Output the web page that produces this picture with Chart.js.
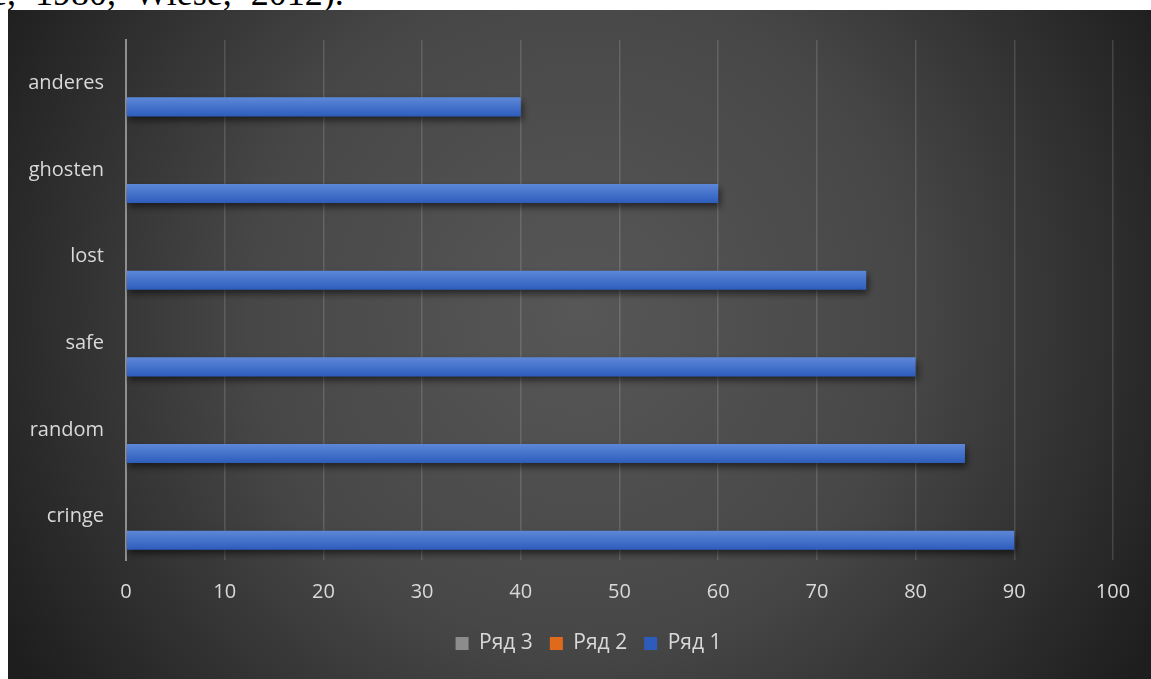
<!DOCTYPE html>
<html>
<head>
<meta charset="utf-8">
<script src="https://cdn.jsdelivr.net/npm/chart.js@4/dist/chart.umd.min.js"></script>
<style>
  body { margin: 0; background: #fff; overflow: hidden; }
  #snippet { position: absolute; left: -9px; top: -25px; font: 36px "Liberation Serif", serif; line-height: 1; color: #000; white-space: nowrap; word-spacing: 10px; }
  #wrap { position: absolute; left: 8px; top: 10px; width: 1143px; height: 669px; }
</style>
</head>
<body>
<div id="snippet">e, 1980, Wiese, 2012).</div>
<div id="wrap"><canvas id="bars"></canvas></div>
<script>
const categories = ["cringe", "random", "safe", "lost", "ghosten", "anderes"]
const series1 = [90, 85, 80, 75, 60, 40]
const series2 = [null, null, null, null, null, null]
const series3 = [null, null, null, null, null, null]
const seriesNames = ["Ряд 3", "Ряд 2", "Ряд 1"]
const xTicks = [0, 10, 20, 30, 40, 50, 60, 70, 80, 90, 100]

const labelFont = { family: "'Open Sans', sans-serif", size: 20 }
const labelColor = "#d9d9d9"

// vertical gradient on each bar, using the bar's own position from the last layout
const barFill = (top, bottom) => (c) => {
  if (c.dataIndex === undefined) return bottom
  const el = c.chart.getDatasetMeta(c.datasetIndex).data[c.dataIndex]
  if (!el || el.y === undefined || !el.height) return bottom
  const g = c.chart.ctx.createLinearGradient(0, el.y - el.height / 2, 0, el.y + el.height / 2)
  g.addColorStop(0, top)
  g.addColorStop(1, bottom)
  return g
}

const backdrop = {
  id: "backdrop",
  beforeDraw(chart) {
    const { ctx, width, height } = chart
    const g = ctx.createRadialGradient(width * 0.5, height * 0.45, 0, width * 0.5, height * 0.45, 660)
    g.addColorStop(0, "#575757")
    g.addColorStop(0.5, "#474747")
    g.addColorStop(1, "#1e1e1e")
    ctx.save()
    ctx.fillStyle = g
    ctx.fillRect(0, 0, width, height)
    ctx.restore()
  }
}

const barShadow = {
  id: "barShadow",
  beforeDatasetsDraw(chart) {
    const ctx = chart.ctx
    ctx.save()
    ctx.shadowColor = "rgba(0,0,0,0.55)"
    ctx.shadowBlur = 7
    ctx.shadowOffsetX = 2
    ctx.shadowOffsetY = 4
  },
  afterDatasetsDraw(chart) {
    chart.ctx.restore()
  }
}

// the legend sits a little right of centre in the original
const legendShift = {
  id: "legendShift",
  afterLayout(chart) {
    chart.legend.left += 28
    chart.legend.right += 28
  }
}

const ctx = document.getElementById("bars").getContext("2d")
const chart = new Chart(ctx, {
  type: "bar",
  data: {
    labels: categories,
    datasets: [
      { label: seriesNames[0], data: series3, backgroundColor: barFill("#b3b3b3", "#8c8c8c") },
      { label: seriesNames[1], data: series2, backgroundColor: barFill("#f39055", "#e06a1c") },
      { label: seriesNames[2], data: series1, backgroundColor: barFill("#5d88d8", "#2d5cbc") }
    ]
  },
  options: {
    indexAxis: "y",
    responsive: true,
    maintainAspectRatio: false,
    animation: false,
    categoryPercentage: 0.815,
    barPercentage: 0.81,
    layout: { padding: { top: 30, right: 38, bottom: 15, left: 0 } },
    scales: {
      x: {
        min: 0,
        max: 100,
        afterBuildTicks: (scale) => { scale.ticks = xTicks.map(v => ({ value: v })) },
        afterFit: (scale) => { scale.height = 56 },
        grid: { color: "rgba(255,255,255,0.14)", lineWidth: 1.5, drawTicks: false },
        border: { display: false },
        ticks: { color: labelColor, font: labelFont, padding: 20 }
      },
      y: {
        reverse: true,
        afterFit: (scale) => {
          scale.width = 118
          scale.paddingTop = 0
          scale.paddingBottom = 0
        },
        grid: { display: false, drawTicks: false },
        border: { display: true, color: "#8f8f8f", width: 2 },
        ticks: { color: labelColor, font: labelFont, padding: 22 }
      }
    },
    plugins: {
      legend: {
        position: "bottom",
        labels: { color: labelColor, font: { family: labelFont.family, size: 21 }, boxWidth: 13, boxHeight: 13, padding: 17 }
      },
      tooltip: { enabled: false }
    }
  },
  plugins: [backdrop, barShadow, legendShift]
})
chart.update()
</script>
</body>
</html>
